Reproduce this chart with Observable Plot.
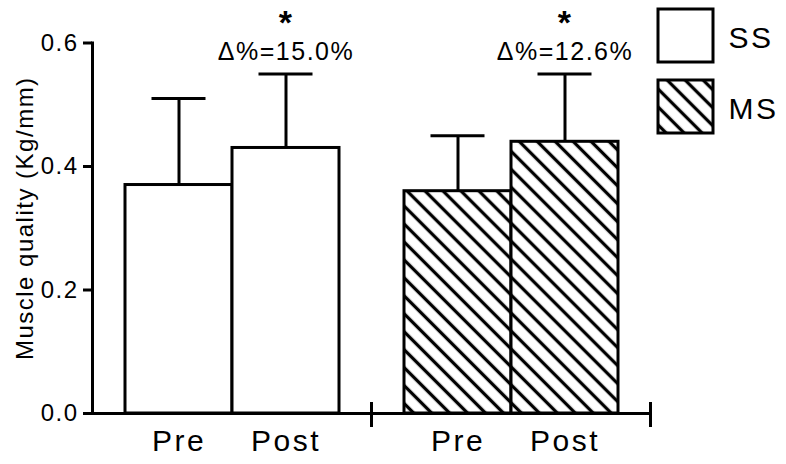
<!DOCTYPE html>
<html>
<head>
<meta charset="utf-8">
<script src="https://cdn.jsdelivr.net/npm/d3@7"></script>
<script src="https://cdn.jsdelivr.net/npm/@observablehq/plot@0.6"></script>
<style>
  html, body { margin: 0; padding: 0; background: white; }
  #wrap { position: relative; width: 786px; height: 464px; }
  #legend { position: absolute; left: 650px; top: 0px; }
  svg text { letter-spacing: 1.5px; }
  g[aria-label="x-axis tick label"] text { letter-spacing: 2.5px; }
  #legend svg text { letter-spacing: 2.5px; }
</style>
</head>
<body>
<svg width="0" height="0" style="position:absolute">
  <defs>
    <pattern id="hatch" patternUnits="userSpaceOnUse" width="12.7" height="12.7" patternTransform="rotate(-45)">
      <rect x="0" y="0" width="12.7" height="12.7" fill="white"></rect>
      <line x1="6.35" y1="-1" x2="6.35" y2="13.7" stroke="black" stroke-width="3.3"></line>
    </pattern>
  </defs>
</svg>
<div id="wrap"><div id="chart"></div><div id="legend"></div></div>
<script>
// ---- data ----
const groups = ["SS", "MS"];
const phases = ["Pre", "Post"];
const barGroup = ["SS", "SS", "MS", "MS"];
const barPhase = ["Pre", "Post", "Pre", "Post"];
const means = [0.37, 0.43, 0.36, 0.44];
const sds = [0.14, 0.12, 0.09, 0.11];
const deltas = ["", "Δ%=15.0%", "", "Δ%=12.6%"];
const stars = ["", "*", "", "*"];
const yTicks = [0, 0.2, 0.4, 0.6];
const yLabel = "Muscle quality (Kg/mm)";

const rows = means.map((m, i) => ({
  group: barGroup[i], phase: barPhase[i], mean: m, sd: sds[i], delta: deltas[i], star: stars[i]
}));
const upper = d => d.mean + d.sd;
const font = "'Liberation Sans', Arial, Helvetica, sans-serif";
const colorScale = {type: "ordinal", domain: groups, range: ["white", "url(#hatch)"]};

const chart = Plot.plot({
  width: 786, height: 464,
  marginTop: 42.5, marginBottom: 51, marginLeft: 92, marginRight: 136,
  style: {fontFamily: font, background: "white", color: "black", overflow: "visible"},
  fx: {domain: groups, padding: 0, axis: null},
  x: {domain: phases, paddingInner: 0, paddingOuter: 0.3},
  y: {domain: [0, 0.6]},
  color: colorScale,
  marks: [
    Plot.ruleX(rows, {fx: "group", x: "phase", y1: "mean", y2: upper, strokeWidth: 3}),
    Plot.tickY(rows, {fx: "group", x: "phase", y: upper, strokeWidth: 3, insetLeft: 26.5, insetRight: 26.5}),
    Plot.barY(rows, {fx: "group", x: "phase", y: "mean", fill: "group", stroke: "black", strokeWidth: 3}),
    Plot.text(rows.filter(d => d.delta), {fx: "group", x: "phase", y: upper, text: "delta", fontSize: 25, lineAnchor: "bottom", dy: -14}),
    Plot.text(rows.filter(d => d.star), {fx: "group", x: "phase", y: upper, text: "star", fontSize: 34, fontWeight: "bold", lineAnchor: "bottom", dy: -40}),
    Plot.ruleY([0], {strokeWidth: 3}),
    Plot.frame({anchor: "left", facetAnchor: "left", strokeWidth: 3}),
    Plot.frame({anchor: "right", insetTop: 360.5, insetBottom: -12, strokeWidth: 3}),
    Plot.axisY({ticks: yTicks, tickFormat: d3.format(".1f"), tickSize: 9, tickPadding: 5, fontSize: 24, strokeWidth: 3, label: null}),
    Plot.text([yLabel], {text: d => d, frameAnchor: "left", facetAnchor: "left", rotate: -90, lineAnchor: "top",
      textAnchor: "middle", dx: -77, dy: -10, fontSize: 24}),
    Plot.axisX({tickSize: 0, tickPadding: 16, fontSize: 30, label: null})
  ]
});
document.getElementById("chart").append(chart);

const legend = Plot.plot({
  width: 136, height: 145,
  marginTop: 9, marginBottom: 12, marginLeft: 8, marginRight: 73,
  style: {fontFamily: font, background: "transparent", color: "black", overflow: "visible"},
  x: {axis: null},
  y: {domain: groups, paddingInner: 0.254, paddingOuter: 0, axis: null},
  color: colorScale,
  marks: [
    Plot.cell(groups, {y: d => d, fill: d => d, stroke: "black", strokeWidth: 3, inset: 0}),
    Plot.text(groups, {y: d => d, text: d => d, frameAnchor: "right", textAnchor: "start", dx: 15, dy: 2, fontSize: 30})
  ]
});
document.getElementById("legend").append(legend);
</script>
</body>
</html>
